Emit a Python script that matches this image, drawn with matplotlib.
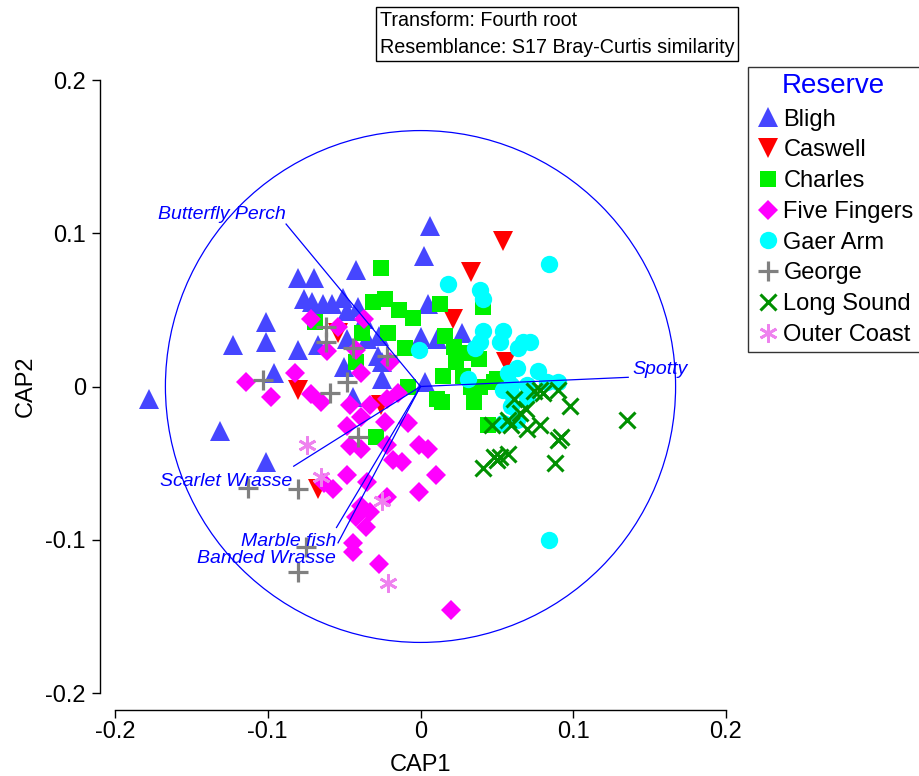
import matplotlib
matplotlib.use('Agg')
import matplotlib.pyplot as plt
from matplotlib.patches import Circle
from matplotlib.lines import Line2D

plt.rcParams['font.family'] = ['Liberation Sans', 'DejaVu Sans']

# ---------------- data ----------------
reserves = ["Bligh", "Caswell", "Charles", "Five Fingers", "Gaer Arm",
            "George", "Long Sound", "Outer Coast"]

bligh_x = [-0.178, -0.131, -0.123, -0.101, -0.101, -0.101, -0.096, -0.080, -0.070,
           -0.080, -0.076, -0.071, -0.064, -0.058, -0.051, -0.048, -0.042, -0.041,
           -0.067, -0.048, -0.035, -0.028, -0.025, -0.025, -0.044, 0.006, 0.002,
           0.005, 0.000, 0.011, 0.027, 0.003, -0.037, -0.050, -0.027]
bligh_y = [-0.008, -0.029, 0.027, 0.029, 0.042, -0.049, 0.009, 0.071, 0.071,
           0.024, 0.057, 0.055, 0.054, 0.054, 0.058, 0.049, 0.076, 0.052,
           0.027, 0.031, 0.031, 0.020, 0.016, 0.005, -0.007, 0.105, 0.085,
           0.054, 0.032, 0.031, 0.035, 0.003, 0.044, 0.013, 0.033]

caswell_x = [0.054, 0.033, 0.021, 0.056, -0.054, -0.080, -0.026, -0.067]
caswell_y = [0.095, 0.075, 0.044, 0.016, 0.035, -0.002, -0.012, -0.067]

charles_x = [-0.026, -0.031, -0.023, -0.014, -0.005, -0.021, -0.038, -0.010, -0.042,
             -0.069, 0.013, 0.041, 0.016, 0.022, 0.029, 0.038, 0.023, 0.028,
             0.050, 0.039, 0.015, -0.008, 0.011, 0.014, 0.035, 0.044, -0.029,
             0.033, 0.048]
charles_y = [0.077, 0.055, 0.057, 0.050, 0.045, 0.035, 0.035, 0.025, 0.016,
             0.042, 0.054, 0.052, 0.033, 0.026, 0.022, 0.018, 0.016, 0.007,
             0.005, 0.000, 0.007, 0.000, -0.008, -0.010, -0.010, -0.025, -0.033,
             0.000, 0.003]

fivefingers_x = [-0.114, -0.098, -0.082, -0.072, -0.054, -0.037, -0.061, -0.042, -0.039,
                 -0.020, -0.072, -0.065, -0.046, -0.033, -0.022, -0.015, -0.039, -0.023,
                 -0.008, -0.048, -0.046, -0.039, -0.022, -0.018, -0.012, -0.001, 0.005,
                 -0.048, -0.035, 0.010, -0.057, -0.063, -0.001, -0.022, -0.039, -0.042,
                 -0.036, -0.044, -0.044, -0.027, 0.020, -0.033]
fivefingers_y = [0.003, -0.007, 0.009, 0.044, 0.039, 0.044, 0.023, 0.024, 0.009,
                 0.016, -0.005, -0.010, -0.012, -0.012, -0.008, -0.004, -0.020, -0.023,
                 -0.024, -0.026, -0.039, -0.041, -0.038, -0.048, -0.049, -0.038, -0.041,
                 -0.058, -0.062, -0.058, -0.067, -0.063, -0.069, -0.072, -0.078, -0.085,
                 -0.092, -0.102, -0.108, -0.116, -0.146, -0.082]

gaerarm_x = [0.084, 0.018, 0.039, 0.041, 0.041, 0.054, 0.039, 0.052, 0.036, 0.064,
             0.067, 0.072, 0.063, 0.077, 0.057, -0.001, 0.031, 0.059, 0.070, 0.083,
             0.090, 0.059, 0.054, 0.059, 0.054, 0.063, 0.070, 0.084]
gaerarm_y = [0.080, 0.067, 0.063, 0.057, 0.036, 0.036, 0.029, 0.029, 0.025, 0.025,
             0.029, 0.029, 0.012, 0.010, 0.009, 0.024, 0.005, 0.001, 0.001, 0.003,
             0.003, -0.004, -0.002, -0.013, -0.024, -0.022, -0.007, -0.100]

george_x = [-0.103, -0.113, -0.080, -0.075, -0.080, -0.062, -0.062, -0.044, -0.022,
            -0.048, -0.059, -0.041]
george_y = [0.004, -0.066, -0.067, -0.105, -0.121, 0.039, 0.029, 0.025, 0.020,
            0.003, -0.004, -0.033]

longsound_x = [0.061, 0.065, 0.069, 0.057, 0.059, 0.070, 0.078, 0.074, 0.078, 0.080,
               0.090, 0.098, 0.135, 0.090, 0.092, 0.088, 0.048, 0.052, 0.057, 0.041,
               0.050, 0.047]
longsound_y = [-0.008, -0.017, -0.015, -0.022, -0.025, -0.028, -0.025, -0.003, -0.002,
               -0.004, -0.002, -0.013, -0.022, -0.035, -0.033, -0.050, -0.046, -0.046,
               -0.044, -0.053, -0.048, -0.025]

outercoast_x = [-0.074, -0.065, -0.025, -0.021]
outercoast_y = [-0.038, -0.059, -0.075, -0.128]

vector_names = ["Butterfly Perch", "Spotty", "Scarlet Wrasse", "Marble fish", "Banded Wrasse"]
vector_x = [-0.088, 0.136, -0.083, -0.055, -0.054]
vector_y = [0.106, 0.006, -0.052, -0.092, -0.102]

circle_radius = 0.167

axis_ticks = [-0.2, -0.1, 0.0, 0.1, 0.2]
tick_labels = ["-0.2", "-0.1", "0", "0.1", "0.2"]

# ---------------- styles ----------------
series = [
    (bligh_x, bligh_y, dict(marker='^', color='#4646FF', ms=14, mew=0)),
    (caswell_x, caswell_y, dict(marker='v', color='#FF0000', ms=14, mew=0)),
    (charles_x, charles_y, dict(marker='s', color='#00F000', ms=12, mew=0)),
    (fivefingers_x, fivefingers_y, dict(marker='D', color='#FF00FF', ms=10.5, mew=0)),
    (gaerarm_x, gaerarm_y, dict(marker='o', color='#00FFFF', ms=12.5, mew=0)),
    (george_x, george_y, dict(marker='+', color='#808080', ms=15, mew=2.3)),
    (longsound_x, longsound_y, dict(marker='x', color='#009000', ms=11, mew=2.2)),
    (outercoast_x, outercoast_y, dict(marker=(6, 2, 0), color='#EE82EE', ms=13, mew=2.0)),
]

label_style = {
    "Butterfly Perch": dict(ha='right', va='bottom', off=(0, 1)),
    "Spotty": dict(ha='left', va='bottom', off=(4, -1)),
    "Scarlet Wrasse": dict(ha='right', va='top', off=(-1, -7)),
    "Marble fish": dict(ha='right', va='top', off=(0, -6)),
    "Banded Wrasse": dict(ha='right', va='top', off=(-2, -7)),
}

W, H = 919, 776
fig = plt.figure(figsize=(W / 100, H / 100), dpi=100)
ax = fig.add_axes([115 / W, (H - 693) / H, (726 - 115) / W, (693 - 80) / H])
ax.set_xlim(-0.2, 0.2)
ax.set_ylim(-0.2, 0.2)

for spine in ['top', 'right']:
    ax.spines[spine].set_visible(False)
ax.spines['left'].set_position(('outward', 11))
ax.spines['bottom'].set_position(('outward', 12))
ax.spines['left'].set_bounds(-0.2, 0.2)
ax.spines['bottom'].set_bounds(-0.2, 0.2)
for s in ['left', 'bottom']:
    ax.spines[s].set_linewidth(1.0)
ax.set_xticks(axis_ticks)
ax.set_xticklabels(tick_labels)
ax.set_yticks(axis_ticks)
ax.set_yticklabels(tick_labels)
ax.tick_params(direction='out', length=6, width=1.0, labelsize=17)
ax.tick_params(axis='x', pad=2)
ax.tick_params(axis='y', pad=4)

handles = []
for i, (xs, ys, st) in enumerate(series):
    ax.plot(xs, ys, linestyle='none', marker=st['marker'], color=st['color'],
            markersize=st['ms'], markeredgewidth=st['mew'], clip_on=False, zorder=3 + i * 0.1)
    handles.append(Line2D([], [], linestyle='none', marker=st['marker'], color=st['color'],
                          markersize=st['ms'], markeredgewidth=st['mew']))

circ = Circle((0, 0), circle_radius, fill=False, edgecolor='#0000FF', linewidth=0.9, zorder=5)
ax.add_patch(circ)

for name, vx, vy in zip(vector_names, vector_x, vector_y):
    ax.plot([0, vx], [0, vy], color='#0000FF', linewidth=0.9, zorder=6)
    ls = label_style[name]
    ax.annotate(name, (vx, vy), xytext=ls['off'], textcoords='offset pixels',
                ha=ls['ha'], va=ls['va'], fontsize=14, style='italic', color='#0000FF',
                zorder=7)

ax.set_xlabel("CAP1", fontsize=17, labelpad=8)
ax.set_ylabel("CAP2", fontsize=17, labelpad=6)

leg = fig.legend(handles, reserves, loc='upper left',
                 bbox_to_anchor=(748 / W, 1 - 67 / H), bbox_transform=fig.transFigure,
                 borderaxespad=0, frameon=True, fancybox=False, fontsize=17,
                 title="Reserve", title_fontsize=20, handletextpad=0.05,
                 handlelength=1.2, labelspacing=0.37, borderpad=0.25)
leg.get_frame().set_edgecolor('black')
leg.get_frame().set_linewidth(1.0)
leg.get_title().set_color('#0000FF')
leg._legend_box.sep = 7

fig.text(380 / W, 1 - 34 / H, "Transform: Fourth root\nResemblance: S17 Bray-Curtis similarity",
         fontsize=14.2, ha='left', va='center', linespacing=1.5,
         bbox=dict(boxstyle='square,pad=0.2', facecolor='white', edgecolor='black', linewidth=1.0))

fig.savefig("out.png", dpi=100)
